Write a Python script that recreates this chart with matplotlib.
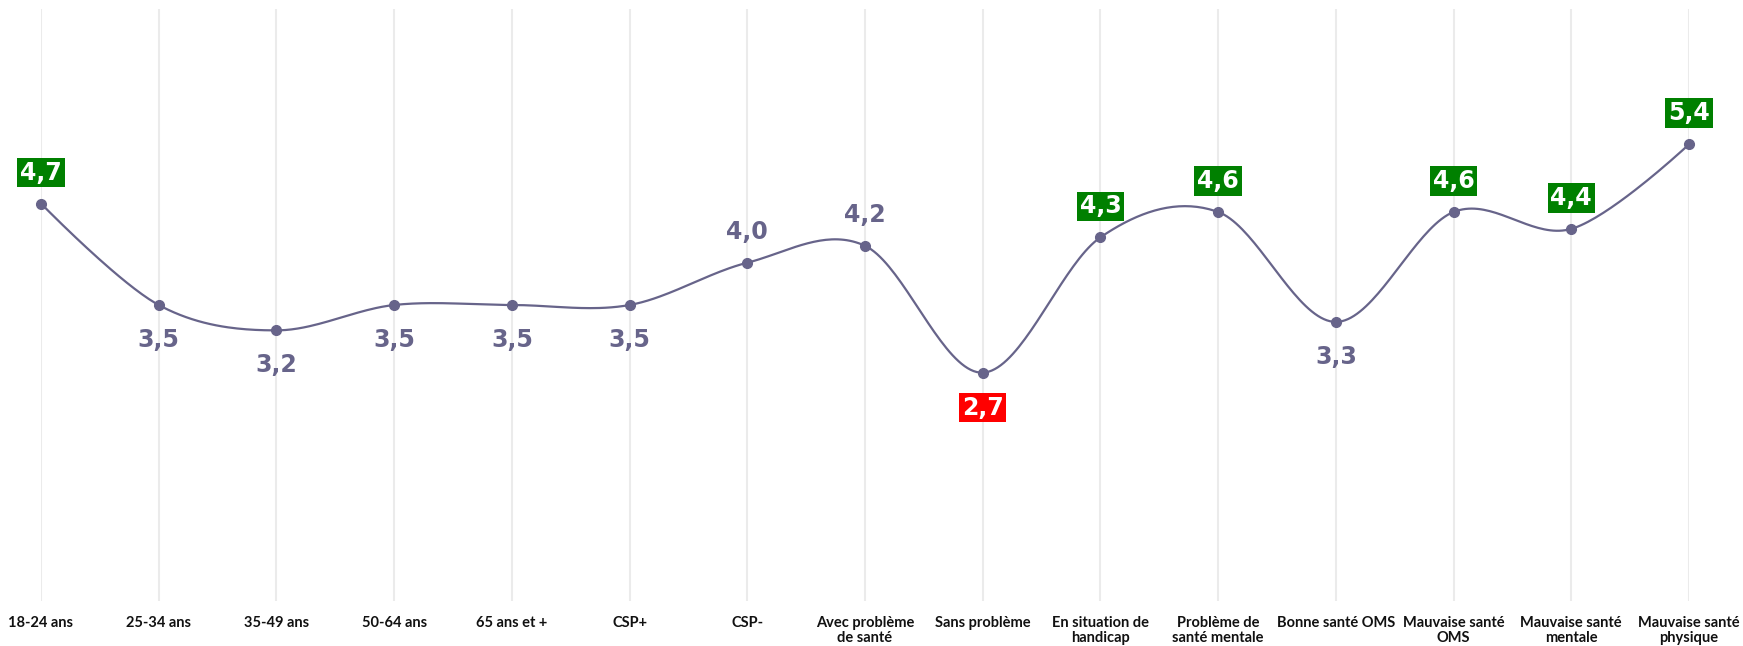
import matplotlib
matplotlib.use("Agg")
import matplotlib.pyplot as plt
import numpy as np

categories = [
    "18-24 ans", "25-34 ans", "35-49 ans", "50-64 ans", "65 ans et +",
    "CSP+", "CSP-", "Avec problème\nde santé", "Sans problème",
    "En situation de\nhandicap", "Problème de\nsanté mentale", "Bonne santé OMS",
    "Mauvaise santé\nOMS", "Mauvaise santé\nmentale", "Mauvaise santé\nphysique",
]
values = [4.7, 3.5, 3.2, 3.5, 3.5, 3.5, 4.0, 4.2, 2.7, 4.3, 4.6, 3.3, 4.6, 4.4, 5.4]
# label style per point: "up"/"down" plain, "green" box above, "red" box below
label_kind = ["green", "down", "down", "down", "down", "down", "up", "up", "red",
              "green", "green", "down", "green", "green", "green"]

LINE = "#67648a"
GRID = "#ebebeb"


def smooth_line(xs, ys, steps=40):
    """Catmull-Rom style curve, endpoints use the point itself as control."""
    xs = np.asarray(xs, float)
    ys = np.asarray(ys, float)
    n = len(xs)
    m = np.zeros(n)
    m[1:-1] = (ys[2:] - ys[:-2]) / (xs[2:] - xs[:-2])
    t = np.linspace(0, 1, steps)
    out_x, out_y = [], []
    for i in range(n - 1):
        dx = xs[i + 1] - xs[i]
        p0 = np.array([xs[i], ys[i]])
        p3 = np.array([xs[i + 1], ys[i + 1]])
        p1 = p0 + np.array([dx / 3, m[i] * dx / 3]) if 0 < i else p0
        p2 = p3 - np.array([dx / 3, m[i + 1] * dx / 3]) if i + 1 < n - 1 else p3
        tt = t[:, None]
        seg = (1 - tt) ** 3 * p0 + 3 * (1 - tt) ** 2 * tt * p1 + 3 * (1 - tt) * tt ** 2 * p2 + tt ** 3 * p3
        if i:
            seg = seg[1:]
        out_x.append(seg[:, 0])
        out_y.append(seg[:, 1])
    return np.concatenate(out_x), np.concatenate(out_y)


W, H = 1743, 646
fig = plt.figure(figsize=(W / 100, H / 100), dpi=100)
ax = fig.add_axes([41 / W, 1 - 601 / H, (1689 - 41) / W, (601 - 9) / H])

x = np.arange(len(categories))
sx, sy = smooth_line(x, values)
ax.plot(sx, sy, color=LINE, lw=1.6, clip_on=False, zorder=3)
ax.plot(x, values, "o", color=LINE, ms=7, clip_on=False, zorder=4)

for xi in x:
    ax.axvline(xi, color=GRID, lw=1.5, zorder=0)

ax.set_xlim(0, len(categories) - 1)
ax.set_ylim(0, 7)
ax.set_yticks([])
ax.set_xticks(x)
ax.set_xticklabels(categories, fontsize=10.5, fontweight="bold", color="#111111",
                   family="Lato", linespacing=1.05)
ax.tick_params(axis="x", length=0, pad=11)
for s in ax.spines.values():
    s.set_visible(False)

for xi, v, kind in zip(x, values, label_kind):
    txt = f"{v:.1f}".replace(".", ",")
    off = 31 if kind in ("green", "up") else -35
    kw = dict(ha="center", va="center", fontsize=17, fontweight="bold",
              family="DejaVu Sans", textcoords="offset pixels", xytext=(0, off),
              annotation_clip=False, zorder=5)
    if kind in ("green", "red"):
        ax.annotate(txt, (xi, v), color="white",
                    bbox=dict(boxstyle="square,pad=0.12",
                              fc="#008000" if kind == "green" else "#ff0000", ec="none"),
                    **kw)
    else:
        ax.annotate(txt, (xi, v), color=LINE, **kw)

fig.savefig("out.png", dpi=100)
